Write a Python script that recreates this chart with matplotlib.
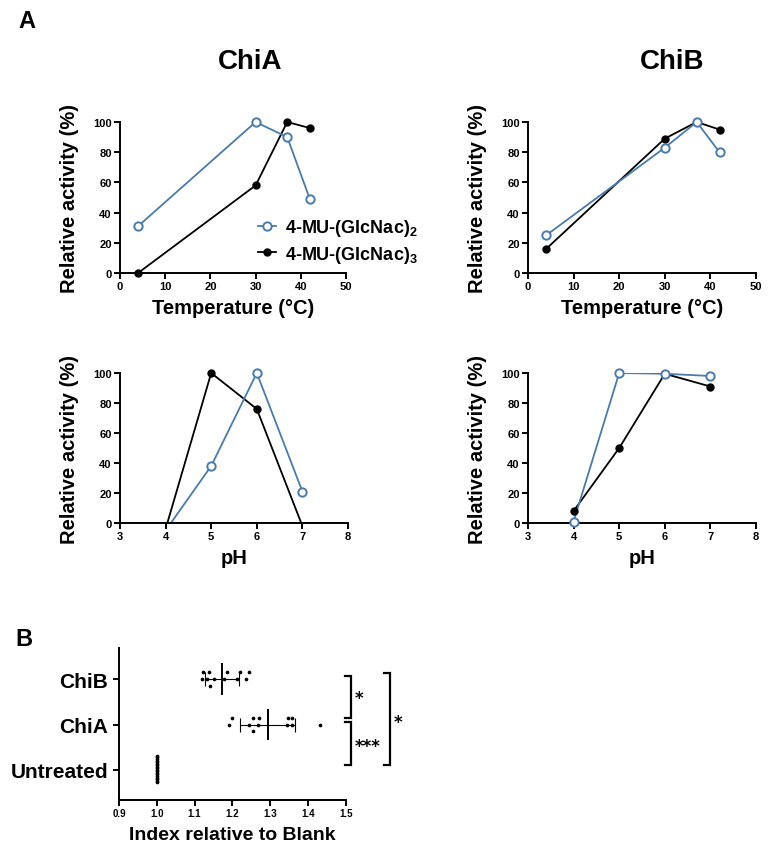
import matplotlib
matplotlib.use("Agg")
import matplotlib.pyplot as plt
from matplotlib.lines import Line2D
import numpy as np

plt.rcParams["font.family"] = ["Liberation Sans", "DejaVu Sans"]
plt.rcParams["font.weight"] = "bold"
plt.rcParams["mathtext.fontset"] = "custom"
plt.rcParams["mathtext.rm"] = "Liberation Sans:bold"
plt.rcParams["mathtext.bf"] = "Liberation Sans:bold"

BLUE = "#4a7bab"

# panel A data
temp_x = [4, 30, 37, 42]
chia_temp_di = [31, 100, 90, 49]
chia_temp_tri = [0, 58, 100, 96]
chib_temp_di = [25, 83, 100, 80]
chib_temp_tri = [16, 89, 100, 95]

ph_x = [4, 5, 6, 7]
chia_ph_di = [-5, 38, 100, 21]
chia_ph_tri = [-4, 100, 76, -2]
chib_ph_di = [1, 100, 99.5, 98]
chib_ph_tri = [8, 50, 99.5, 91]

series_labels = [r"4-MU-(GlcNac)$_{2}$", r"4-MU-(GlcNac)$_{3}$"]

# panel B data
groups = ["Untreated", "ChiA", "ChiB"]
untreated_idx = [1.0] * 18
chia_idx = [1.191, 1.200, 1.244, 1.255, 1.255, 1.267, 1.270,
            1.344, 1.346, 1.358, 1.358, 1.432]
chib_idx = [1.119, 1.123, 1.132, 1.138, 1.141, 1.152, 1.179,
            1.185, 1.211, 1.220, 1.236, 1.245]

W, H = 769, 854
fig = plt.figure(figsize=(W / 100, H / 100), dpi=100)


def axes_px(x0, y0, x1, y1):
    return fig.add_axes([x0 / W, 1 - y1 / H, (x1 - x0) / W, (y1 - y0) / H])


def style(ax):
    for s in ["top", "right"]:
        ax.spines[s].set_visible(False)
    for s in ["left", "bottom"]:
        ax.spines[s].set_linewidth(1.4)
    ax.tick_params(width=1.4, length=4, labelsize=8, pad=2)
    for lab in ax.get_xticklabels() + ax.get_yticklabels():
        lab.set_fontweight("bold")


def series(ax, x, y, color, open_marker):
    x = np.asarray(x, float)
    y = np.asarray(y, float)
    ax.plot(x, y, color=color, lw=1.3, zorder=2)
    vis = y >= 0
    if open_marker:
        ax.plot(x[vis], y[vis], ls="none", marker="o", ms=6, mfc="white",
                mec=color, mew=1.4, clip_on=False, zorder=4)
    else:
        ax.plot(x[vis], y[vis], ls="none", marker="o", ms=5, mfc=color,
                mec=color, clip_on=False, zorder=3)


def activity_panel(ax, x, di, tri, xlim, xticks, xlabel):
    series(ax, x, tri, "black", False)
    series(ax, x, di, BLUE, True)
    ax.set_xlim(*xlim)
    ax.set_ylim(0, 100)
    ax.set_xticks(xticks)
    ax.set_yticks(range(0, 101, 20))
    ax.set_xlabel(xlabel, fontsize=14.5, fontweight="bold", labelpad=5)
    ax.set_ylabel("Relative activity (%)", fontsize=14.5, fontweight="bold")
    ax.yaxis.set_label_coords(-0.18, 0.5)
    style(ax)


ax1 = axes_px(120, 123, 346, 274)
activity_panel(ax1, temp_x, chia_temp_di, chia_temp_tri, (0, 50),
               range(0, 51, 10), "Temperature (°C)")
ax2 = axes_px(528, 123, 756, 274)
activity_panel(ax2, temp_x, chib_temp_di, chib_temp_tri, (0, 50),
               range(0, 51, 10), "Temperature (°C)")
ax3 = axes_px(120, 374, 348, 524)
activity_panel(ax3, ph_x, chia_ph_di, chia_ph_tri, (3, 8),
               range(3, 9), "pH")
ax4 = axes_px(528, 374, 756, 524)
activity_panel(ax4, ph_x, chib_ph_di, chib_ph_tri, (3, 8),
               range(3, 9), "pH")

handles = [
    Line2D([], [], color=BLUE, lw=1.3, marker="o", ms=6, mfc="white",
           mec=BLUE, mew=1.4),
    Line2D([], [], color="black", lw=1.3, marker="o", ms=5, mfc="black"),
]
leg = ax1.legend(handles, series_labels, loc="upper left",
                 bbox_to_anchor=(0.61, 0.37), frameon=False,
                 prop={"size": 13, "weight": "bold"}, handlelength=1.0,
                 handletextpad=0.5, labelspacing=0.3, borderpad=0,
                 borderaxespad=0)
leg.set_clip_on(False)

fig.text(250 / W, 1 - 62 / H, "ChiA", fontsize=20, fontweight="bold",
         ha="center", va="center")
fig.text(672 / W, 1 - 62 / H, "ChiB", fontsize=20, fontweight="bold",
         ha="center", va="center")
fig.text(27 / W, 1 - 22 / H, "A", fontsize=17, fontweight="bold",
         ha="center", va="center")
fig.text(24 / W, 1 - 639 / H, "B", fontsize=17, fontweight="bold",
         ha="center", va="center")


# panel B
def swarm(values, d, xthr):
    placed = []
    offsets = []
    for v in values:
        k = 0
        cands = [0.0]
        while len(cands) < 40:
            k += 1
            cands += [k * d, -k * d]
        for c in cands:
            if all(abs(v - pv) >= xthr or abs(c - po) >= d * 0.9
                   for pv, po in placed):
                break
        placed.append((v, c))
        offsets.append(c)
    return np.array(offsets)


axb = axes_px(119, 649, 345.7, 800.7)
data_b = [untreated_idx, chia_idx, chib_idx]
for i, vals in enumerate(data_b):
    vals = np.array(vals)
    if i == 0:
        offs = swarm(vals, 0.034, 0.01)
    else:
        offs = swarm(vals, 0.15, 0.012)
    axb.scatter(vals, i + offs, s=7, color="black", zorder=3,
                linewidths=0)
    if i > 0:
        m = vals.mean()
        sd = vals.std(ddof=1)
        axb.errorbar(m, i, xerr=sd, color="black", lw=0.8, capsize=5,
                     capthick=0.8, zorder=2)
        axb.plot([m, m], [i - 0.33, i + 0.33], color="black", lw=1.4,
                 zorder=2)

axb.set_xlim(0.9, 1.5)
axb.set_ylim(-0.66, 2.69)
axb.set_xticks(np.round(np.arange(0.9, 1.51, 0.1), 1))
axb.set_yticks(range(len(groups)))
axb.set_yticklabels(groups)
style(axb)
axb.tick_params(axis="x", labelsize=7)
axb.tick_params(axis="y", labelsize=15, pad=4)
for lab in axb.get_yticklabels():
    lab.set_fontweight("bold")
axb.set_xlabel("Index relative to Blank", fontsize=14, fontweight="bold",
               labelpad=6)


def bracket(ax, x, xt, y0, y1):
    ax.plot([xt, x, x, xt], [y0, y0, y1, y1], color="black", lw=1.6,
            clip_on=False, solid_joinstyle="miter")


bracket(axb, 1.513, 1.498, 2.07, 1.14)
bracket(axb, 1.513, 1.498, 1.05, 0.11)
bracket(axb, 1.617, 1.601, 2.13, 0.11)
star_font = {"family": "DejaVu Sans", "size": 12, "weight": "bold"}
axb.text(1.535, 1.58, "*", fontdict=star_font, ha="center", va="center",
         clip_on=False)
axb.text(1.557, 0.52, "***", fontdict=star_font, ha="center", va="center",
         clip_on=False)
axb.text(1.638, 1.06, "*", fontdict=star_font, ha="center", va="center",
         clip_on=False)

fig.savefig("out.png", dpi=100)
